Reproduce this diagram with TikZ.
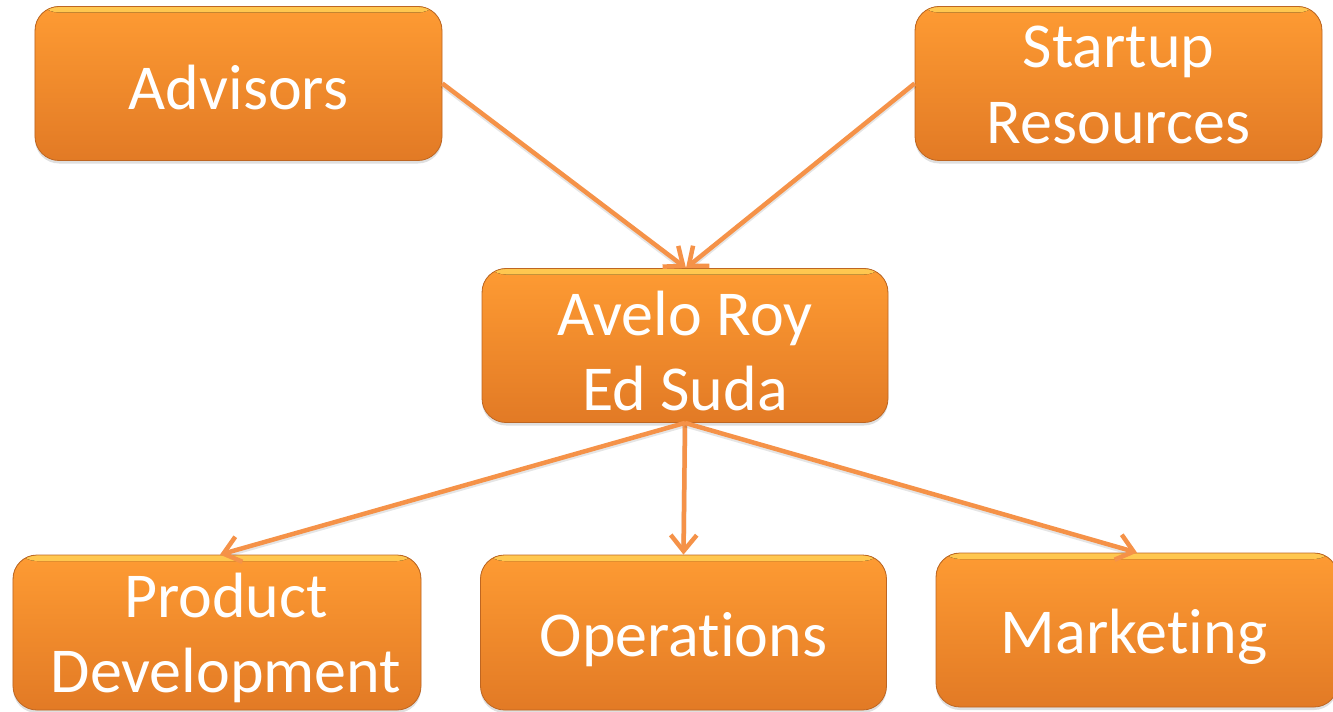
\documentclass[tikz,border=0pt]{standalone}
\usepackage{fontspec}
\setmainfont{Carlito}[Ligatures=NoCommon]
\usetikzlibrary{arrows.meta,shadows}
\definecolor{boxtop}{HTML}{FE9B33}
\definecolor{boxmid}{HTML}{F8922F}
\definecolor{boxbot}{HTML}{E27A25}
\definecolor{boxrim}{HTML}{BE6622}
\definecolor{boxhi}{HTML}{FFC850}
\definecolor{arrowc}{HTML}{F59248}
\tikzset{
  orgbox/.style={draw=boxrim, line width=0.8bp, rounded corners=24bp,
    top color=boxtop, middle color=boxmid, bottom color=boxbot, inner sep=0pt,
    drop shadow={opacity=0.25, shadow xshift=0bp, shadow yshift=-3bp},
    path picture={\fill[top color=boxhi, bottom color=boxtop]
      (path picture bounding box.north west) rectangle
      ([yshift=-6bp]path picture bounding box.north east);}},
  orgtext/.style={font=\fontsize{64bp}{75bp}\selectfont, text=white,
    text width=420bp, align=flush center, inner sep=0pt, anchor=base},
  link/.style={draw=arrowc, line width=4.5bp,
    -{Straight Barb[length=16bp,width=26bp,line width=4.5bp]},
    preaction={draw=black, draw opacity=0.10, line width=5bp, shorten >=6bp, transform canvas={yshift=-2bp}, -}}
}
\begin{document}
\begin{tikzpicture}[x=1bp,y=-1bp]
\useasboundingbox (0,0) rectangle (1333,711);
% boxes
\node[orgbox, minimum width=407bp, minimum height=154bp] (adv) at (238.5,83.5) {};
\node[orgbox, minimum width=407bp, minimum height=154bp] (sr) at (1118.5,83.5) {};
\node[orgbox, minimum width=406bp, minimum height=154bp] (ctr) at (685,345.5) {};
\node[orgbox, minimum width=408bp, minimum height=155bp] (pd) at (217,632.5) {};
\node[orgbox, minimum width=406bp, minimum height=155bp] (ops) at (683.5,632.5) {};
\node[orgbox, minimum width=402bp, minimum height=154bp] (mkt) at (1137,630) {};
% texts
\node[orgtext] (advt) at (238.5,110) {Advisors};
\node[orgtext] (srt) at (1118.5,68) {Startup\\Resources};
\node[orgtext] (ctrt) at (685,335) {Avelo Roy\\Ed Suda};
\node[orgtext] (pdt) at (226,617) {Product\\Development};
\node[orgtext] (opst) at (683.5,656) {Operations};
\node[orgtext] (mktt) at (1134,653) {Marketing};
% connectors
\coordinate (ctrin) at ([xshift=1bp]ctr.north);
\draw[link] (adv.east) -- (ctrin);
\draw[link] (sr.west) -- (ctrin);
\draw[link] (ctr.south) -- ([xshift=3bp]pd.north);
\draw[link] (ctr.south) -- (ops.north);
\draw[link] (ctr.south) -- (mkt.north);
\end{tikzpicture}
\end{document}
